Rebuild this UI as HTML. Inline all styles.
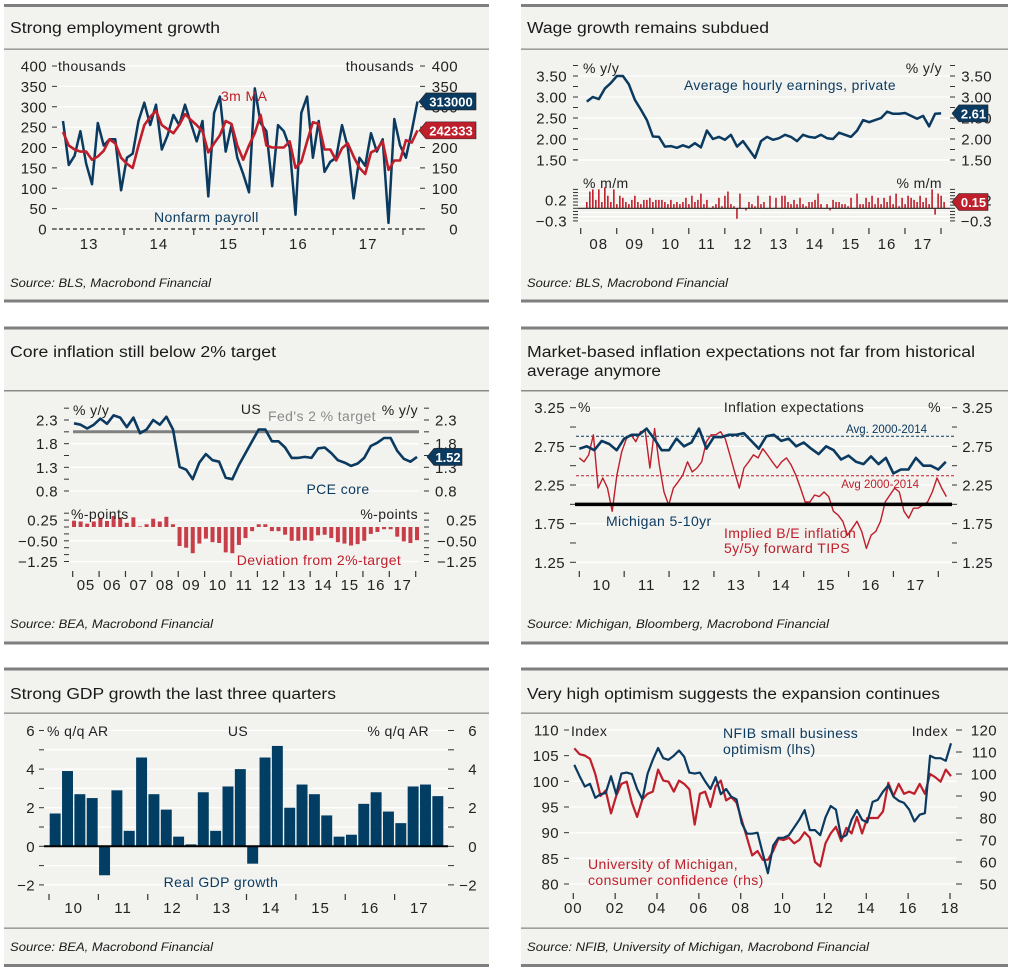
<!DOCTYPE html>
<html><head><meta charset="utf-8">
<style>
html,body{margin:0;padding:0;background:#fff;}
svg{display:block;font-family:"Liberation Sans",sans-serif;}
text{font-family:"Liberation Sans",sans-serif;}
</style></head>
<body>
<svg id="chart" width="1013" height="975" viewBox="0 0 1013 975" xmlns="http://www.w3.org/2000/svg">
<g fill="#f2f2ee">
<rect x="4" y="5" width="485" height="296"/>
<rect x="521" y="5" width="487" height="296"/>
<rect x="4" y="327" width="485" height="316"/>
<rect x="521" y="327" width="487" height="316"/>
<rect x="4" y="668" width="485" height="298"/>
<rect x="521" y="668" width="487" height="298"/>
</g>
<g fill="#7f7f7f">
<rect x="4" y="4" width="485" height="3"/>
<rect x="521" y="4" width="487" height="3"/>
<rect x="4" y="48.5" width="485" height="1.3" fill="#8a8a8a"/>
<rect x="521" y="48.5" width="487" height="1.3" fill="#8a8a8a"/>
<rect x="4" y="299.5" width="485" height="3"/>
<rect x="521" y="299.5" width="487" height="3"/>
<rect x="4" y="326.5" width="485" height="3"/>
<rect x="521" y="326.5" width="487" height="3"/>
<rect x="4" y="390" width="485" height="1.5" fill="#8a8a8a"/>
<rect x="521" y="390" width="487" height="1.5" fill="#8a8a8a"/>
<rect x="4" y="641.5" width="485" height="3"/>
<rect x="521" y="641.5" width="487" height="3"/>
<rect x="4" y="667.5" width="485" height="3"/>
<rect x="521" y="667.5" width="487" height="3"/>
<rect x="4" y="712.5" width="485" height="1.3" fill="#8a8a8a"/>
<rect x="521" y="712.5" width="487" height="1.3" fill="#8a8a8a"/>
<rect x="4" y="927.5" width="485" height="1.3" fill="#8a8a8a"/>
<rect x="521" y="927.5" width="487" height="1.3" fill="#8a8a8a"/>
<rect x="4" y="964" width="485" height="3"/>
<rect x="521" y="964" width="487" height="3"/>
</g>
<g fill="#1a1a1a" font-size="15.5">
<text x="10" y="33" textLength="210" lengthAdjust="spacingAndGlyphs">Strong employment growth</text>
<text x="527" y="33" textLength="242" lengthAdjust="spacingAndGlyphs">Wage growth remains subdued</text>
<text x="10" y="357" textLength="266" lengthAdjust="spacingAndGlyphs">Core inflation still below 2% target</text>
<text x="527" y="357" textLength="448" lengthAdjust="spacingAndGlyphs">Market-based inflation expectations not far from historical</text>
<text x="527" y="376" textLength="134" lengthAdjust="spacingAndGlyphs">average anymore</text>
<text x="10" y="699" textLength="326" lengthAdjust="spacingAndGlyphs">Strong GDP growth the last three quarters</text>
<text x="527" y="699" textLength="413" lengthAdjust="spacingAndGlyphs">Very high optimism suggests the expansion continues</text>
</g>
<g fill="#1a1a1a" font-size="11.5" font-style="italic">
<text x="10" y="287" textLength="201" lengthAdjust="spacingAndGlyphs">Source: BLS, Macrobond Financial</text>
<text x="527" y="287" textLength="201" lengthAdjust="spacingAndGlyphs">Source: BLS, Macrobond Financial</text>
<text x="10" y="628" textLength="203" lengthAdjust="spacingAndGlyphs">Source: BEA, Macrobond Financial</text>
<text x="527" y="628" textLength="302" lengthAdjust="spacingAndGlyphs">Source: Michigan, Bloomberg, Macrobond Financial</text>
<text x="10" y="951" textLength="203" lengthAdjust="spacingAndGlyphs">Source: BEA, Macrobond Financial</text>
<text x="527" y="951" textLength="342" lengthAdjust="spacingAndGlyphs">Source: NFIB, University of Michigan, Macrobond Financial</text>
</g>
</svg>
<script>
// ---------- DATA ----------
const nfpValues=[265,157,180,240,160,110,260,205,220,220,95,175,185,265,310,255,305,195,230,280,255,305,260,215,265,80,285,325,190,255,175,135,90,345,260,240,105,255,240,200,35,285,325,175,265,140,165,175,255,200,75,175,155,235,190,220,15,270,205,175,240,313];
const nfpMaValues=[238,205,195,190,190,170,178,192,220,210,175,160,150,205,255,275,290,255,245,235,255,282,268,255,240,188,210,230,265,258,205,170,205,235,280,205,200,200,200,215,150,165,215,262,258,195,195,168,198,210,178,150,135,188,195,215,145,168,168,218,212,242];
const nfpStartYear=2013;
const p1TickLabels=['400','350','300','250','200','150','100','50','0'];
const p1TickValues=[400,350,300,250,200,150,100,50,0];
const p1YearLabels=['13','14','15','16','17'];
const p1LastNfp='313000', p1LastMa='242333';

const aheYoY=[2.89,3.0,2.95,3.2,3.33,3.5,3.5,3.3,2.93,2.7,2.45,2.06,2.05,1.82,1.83,1.79,1.85,1.8,1.9,1.8,2.2,2.0,2.05,1.98,2.1,1.82,1.95,1.75,1.55,1.95,2.05,1.98,2.02,2.1,2.05,1.95,2.1,2.05,2.03,2.1,2.02,2.0,2.15,2.1,2.05,2.2,2.45,2.4,2.45,2.5,2.65,2.6,2.6,2.62,2.55,2.48,2.55,2.3,2.6,2.61];
const aheStartYear=2008.17, aheStepYears=2/12;
const aheMoM=[.15,.4,.45,.2,.45,.15,.5,.3,.15,.45,.1,.3,
.25,.15,.1,.2,.3,.15,.1,.2,.2,.25,.15,.2,
.2,.2,.15,.1,.2,.1,.15,.1,.15,.25,.1,.3,
.15,.2,.35,.1,.2,0,.05,.1,.25,.05,.3,.4,
.1,.05,-.25,.35,0,-.05,.15,.1,.05,.3,.1,.15,
0,.3,0,.25,0,.3,.3,.15,.1,.2,.1,.25,
.1,.05,.15,.15,.2,.35,.1,0,.1,-.05,.2,.15,
.15,.1,.1,.05,.25,0,.35,.1,.1,.25,.15,.3,
.1,.25,.1,.25,.15,.3,.1,.35,.05,.25,.1,.3,
.25,.2,.15,.3,.15,.25,.1,.45,-.15,.35,.3,.15];
const p2TopLabels=['3.50','3.00','2.50','2.00','1.50'];
const p2TopValues=[3.5,3.0,2.5,2.0,1.5];
const p2BotLabels=['0.2','\u22120.3'];
const p2BotValues=[0.2,-0.3];
const p2YearLabels=['08','09','10','11','12','13','14','15','16','17'];
const p2LastYoY='2.61', p2LastMoM='0.15';

const pceCore=[2.23,2.2,2.12,2.2,2.33,2.22,2.4,2.35,2.15,2.35,2.02,2.1,2.3,2.2,2.37,2.1,1.31,1.25,1.05,1.4,1.58,1.45,1.42,1.08,1.05,1.35,1.6,1.85,2.1,2.1,1.85,1.85,1.72,1.5,1.5,1.52,1.5,1.7,1.72,1.6,1.45,1.4,1.33,1.38,1.5,1.75,1.82,1.92,1.92,1.65,1.48,1.42,1.52];
const pceStartYear=2005.05;
const fedTarget=2.0;
const p3TopLabels=['2.3','1.8','1.3','0.8'];
const p3TopValues=[2.3,1.8,1.3,0.8];
const p3BotLabels=['0.25','\u22120.50','\u22121.25'];
const p3BotValues=[0.25,-0.5,-1.25];
const p3YearLabels=['05','06','07','08','09','10','11','12','13','14','15','16','17'];
const p3LastValue='1.52';

const michigan510=[2.72,2.75,2.7,2.82,2.78,2.7,2.85,2.9,2.9,2.98,2.85,2.7,2.7,2.85,2.75,2.8,2.98,2.72,2.87,2.87,2.9,2.9,2.92,2.82,2.72,2.88,2.9,2.82,2.85,2.75,2.8,2.72,2.65,2.75,2.7,2.58,2.63,2.55,2.52,2.62,2.52,2.6,2.4,2.45,2.45,2.6,2.5,2.5,2.45,2.55];
const michStartYear=2010, michStepYears=2/12;
const tips5y5y=[2.6,2.55,2.64,2.9,2.21,2.34,2.21,1.91,2.38,2.68,2.85,2.9,2.81,2.94,2.95,2.47,2.98,2.51,2.16,1.99,2.21,2.29,2.38,2.55,2.42,2.47,2.55,2.81,2.9,2.9,2.94,2.85,2.64,2.42,2.21,2.47,2.55,2.64,2.6,2.72,2.64,2.55,2.47,2.55,2.6,2.51,2.38,2.21,2.03,2.03,2.12,2.1,2.16,2.1,1.91,1.86,1.78,1.6,1.69,1.78,1.65,1.43,1.6,1.65,1.78,2.03,2.12,2.21,2.16,1.91,1.82,1.95,1.95,1.99,2.03,2.16,2.34,2.21,2.1];
const tipsStartYear=2010, tipsEndYear=2018.18;
const michAvg=2.88, tipsAvg=2.37, refLevel=2.0;
const p4Labels=['3.25','2.75','2.25','1.75','1.25'];
const p4Values=[3.25,2.75,2.25,1.75,1.25];
const p4YearLabels=['10','11','12','13','14','15','16','17'];

const gdpGrowth=[1.7,3.9,2.7,2.5,-1.5,2.9,0.8,4.6,2.7,1.9,0.5,0.1,2.8,0.8,3.1,4.0,-0.9,4.6,5.2,2.0,3.2,2.7,1.6,0.5,0.6,2.2,2.8,1.8,1.2,3.1,3.2,2.6];
const gdpStartYear=2010;
const p5Labels=['6','4','2','0','\u22122'];
const p5Values=[6,4,2,0,-2];
const p5YearLabels=['10','11','12','13','14','15','16','17'];

const nfibIndex=[103.2,101,99,99.5,96.8,97.5,97.7,101,97.5,101.5,101.7,101.4,98.5,96.5,101.5,104.2,106.5,104.5,104.2,105,106,104.8,101.7,101.5,101.7,100,98.5,100.8,97.5,98.5,97,96.5,91.8,89.8,89.8,90,86,82.1,87.5,89,89,89.5,91,92.5,94.4,90.5,90.5,89.5,93,95.2,94.5,89,89.5,92.5,94.4,92.5,92,96,96.4,98,99.2,97,96.2,95.8,94.5,92.2,93.5,93.8,105,104.5,104.5,104,107.4];
const umichConf=[111.7,109,108.4,106.9,100,90,92.5,82.1,90,95.5,96.5,87,80.5,88.5,91,92,102,97,96.5,92,97,95.5,93,77,91,92,85,94.5,97,88,89.5,87,79,71,63,65,61,61,65,70.5,70,71,68.5,70,73.5,71,60,58,68.5,73,76,69.5,75.5,73,80.5,73,80,80,80,83,96,90,95.5,91,92,91,95.5,91,100,98.5,96.5,102,99];
const optStartYear=2000.05;
const p6LeftLabels=['110','105','100','95','90','85','80'];
const p6LeftValues=[110,105,100,95,90,85,80];
const p6RightLabels=['120','110','100','90','80','70','60','50'];
const p6RightValues=[120,110,100,90,80,70,60,50];
const p6YearLabels=['00','02','04','06','08','10','12','14','16','18'];

// ---------- HELPERS ----------
const NS='http://www.w3.org/2000/svg';
const svg=document.getElementById('chart');
const BLUE='#0b3a60', RED='#bf1e2b', INK='#222';
function mk(tag,attrs,name,parent){
  const el=document.createElementNS(NS,tag);
  for(const k in attrs) el.setAttribute(k,attrs[k]);
  
  
  (parent||svg).appendChild(el);
  return el;
}
function txt(x,y,s,name,o){
  const t=mk('text',Object.assign({x:x,y:y,'font-size':15,fill:INK,'letter-spacing':0.4},o||{}),name);
  t.textContent=s;return t;
}
function line(x1,y1,x2,y2,name,o){return mk('line',Object.assign({x1:x1,y1:y1,x2:x2,y2:y2,stroke:'#fff','stroke-width':1.3},o||{}),name);}
function pathD(pts){return pts.map((p,i)=>(i?'L':'M')+p[0].toFixed(1)+' '+p[1].toFixed(1)).join(' ');}
function lin(d0,r0,d1,r1){return v=>r0+(v-d0)*(r1-r0)/(d1-d0);}
function tag(x,yc,s,color,w,name){
  const g=mk('g',{},name);
  mk('polygon',{points:`${x},${yc} ${x+7},${yc-8.5} ${x+w},${yc-8.5} ${x+w},${yc+8.5} ${x+7},${yc+8.5}`,fill:color,stroke:'#222','stroke-width':0.6},name+'-shape',g);
  const t=mk('text',{x:x+7+(w-7)/2,y:yc+5,'text-anchor':'middle','font-size':13,fill:'#fff','font-weight':'bold'},name+'-text',g);
  t.textContent=s;
}
function grid(vals,ys,x0,x1,prefix){vals.forEach((v,i)=>line(x0,ys(v),x1,ys(v),prefix+'-gridline-'+i));}
function yLabels(labels,vals,ys,xEnd,prefix,o){labels.forEach((s,i)=>txt(xEnd,ys(vals[i])+5.5,s,prefix+'-label-'+i,Object.assign({'text-anchor':'end'},o||{})));}
function ticks(vals,ys,x0,x1,prefix){vals.forEach((v,i)=>line(x0,ys(v),x1,ys(v),prefix+'-tick-'+i,{stroke:'#333','stroke-width':1}));}
function range(a,b,s){const r=[];for(let v=a;v<=b+1e-9;v+=s)r.push(+v.toFixed(4));return r;}

// ---------- PANEL 1 ----------
(function(){
  const ys=lin(0,229,400,66), xs=lin(2013,54.25,2018,403);
  grid(p1TickValues.slice(0,-1),ys,57,420,'p1');
  line(52,ys(0),424,ys(0),'p1-zero-line',{stroke:'#222','stroke-width':1.2,'stroke-dasharray':'4 3'});
  ticks(p1TickValues,ys,52,57,'p1-left');ticks(p1TickValues,ys,420,425,'p1-right');
  yLabels(p1TickLabels,p1TickValues,ys,47,'p1-left');
  yLabels(p1TickLabels,p1TickValues,ys,458,'p1-right');
  const yrs=[2013,2014,2015,2016,2017,2018];
  yrs.slice(1).forEach((y,i)=>line(xs(y),229,xs(y),235,'p1-xtick-'+i,{stroke:'#333','stroke-width':1.2}));
  p1YearLabels.forEach((s,i)=>txt((xs(yrs[i])+xs(yrs[i+1]))/2,249,s,'p1-xlabel-'+i,{'text-anchor':'middle','letter-spacing':1}));
  txt(58,71,'thousands','p1-left-unit',{'font-size':14});
  txt(414,71,'thousands','p1-right-unit',{'font-size':14,'text-anchor':'end'});
  const xi=i=>xs(nfpStartYear+(i+1.5)/12);
  mk('path',{d:pathD(nfpValues.map((v,i)=>[xi(i),ys(v)])),fill:'none',stroke:BLUE,'stroke-width':2.5,'stroke-linejoin':'round'},'nonfarm-payroll-line');
  mk('path',{d:pathD(nfpMaValues.map((v,i)=>[xi(i),ys(v)])),fill:'none',stroke:RED,'stroke-width':2.6,'stroke-linejoin':'round'},'nfp-3m-ma-line');
  txt(221,101,'3m MA','label-3m-ma',{fill:RED,'font-size':14});
  txt(154,222,'Nonfarm payroll','label-nonfarm-payroll',{fill:BLUE,'font-size':14});
  tag(419,ys(nfpValues[nfpValues.length-1]),p1LastNfp,BLUE,57,'tag-last-nfp');
  tag(419,ys(nfpMaValues[nfpMaValues.length-1]),p1LastMa,RED,57,'tag-last-ma');
})();

// ---------- PANEL 2 ----------
(function(){
  const ys=lin(1.5,160,3.5,76), yb=lin(0,208.3,0.5,187.3), xs=lin(2008,580.7,2018,941);
  grid(p2TopValues,ys,578,950,'p2-top');
  grid([0.4,0.3,0.1,-0.1,-0.2,-0.3],yb,578,950,'p2-bot');
  const minor=range(1.5,3.75,0.25);
  ticks(minor,ys,573,578,'p2-top-left');ticks(minor,ys,950,955,'p2-top-right');
  const bm=range(-0.3,0.45,0.075);
  ticks(bm,yb,573,578,'p2-bot-left');ticks(bm,yb,950,955,'p2-bot-right');
  yLabels(p2TopLabels,p2TopValues,ys,567,'p2-top-left');
  yLabels(p2TopLabels,p2TopValues,ys,992,'p2-top-right');
  yLabels(p2BotLabels,p2BotValues,yb,567,'p2-bot-left');
  yLabels(p2BotLabels,p2BotValues,yb,992,'p2-bot-right');
  const yrs=range(2008,2018,1);
  yrs.forEach((y,i)=>line(xs(y),228,xs(y),234,'p2-xtick-'+i,{stroke:'#333','stroke-width':1.2}));
  p2YearLabels.forEach((s,i)=>txt((xs(yrs[i])+xs(yrs[i+1]))/2,249,s,'p2-xlabel-'+i,{'text-anchor':'middle','letter-spacing':1}));
  txt(583,73,'% y/y','p2-left-unit',{'font-size':14});
  txt(942,73,'% y/y','p2-right-unit',{'font-size':14,'text-anchor':'end'});
  txt(583,188,'% m/m','p2-left-unit-mm',{'font-size':14});
  txt(942,188,'% m/m','p2-right-unit-mm',{'font-size':14,'text-anchor':'end'});
  aheMoM.forEach((v,i)=>{const x=xs(aheStartYear+i/12);const y0=yb(0),y1=yb(v);
    mk('rect',{x:x-0.8,y:Math.min(y0,y1),width:1.6,height:Math.max(0.5,Math.abs(y1-y0)),fill:RED},'mom-bar-'+i);});
  line(578,yb(0),950,yb(0),'p2-mom-zero',{stroke:'#222','stroke-width':1.2});
  mk('path',{d:pathD(aheYoY.map((v,i)=>[xs(aheStartYear+i*aheStepYears),ys(v)])),fill:'none',stroke:BLUE,'stroke-width':2.5,'stroke-linejoin':'round'},'ahe-yoy-line');
  txt(684,90,'Average hourly earnings, private','label-ahe',{fill:BLUE,'font-size':14,textLength:212,lengthAdjust:'spacingAndGlyphs'});
  tag(952,ys(aheYoY[aheYoY.length-1]),p2LastYoY,BLUE,36,'tag-last-yoy');
  tag(952,yb(aheMoM[aheMoM.length-1]),p2LastMoM,RED,36,'tag-last-mom');
})();

// ---------- PANEL 3 ----------
(function(){
  const ys=lin(2.3,420,0.8,491), yb=lin(0,527,0.25,520.1), xs=lin(2005,72.7,2018,415.7);
  grid(p3TopValues,ys,68,419,'p3-top');
  grid([0.25,-0.5,-1.25],yb,68,419,'p3-bot');
  const tm=range(0.8,2.55,0.25);
  ticks(tm,ys,64,69,'p3-top-left');ticks(tm,ys,424,429,'p3-top-right');
  const bm=range(-1.25,0.5,0.25);
  ticks(bm,yb,64,69,'p3-bot-left');ticks(bm,yb,424,429,'p3-bot-right');
  yLabels(p3TopLabels,p3TopValues,ys,58,'p3-top-left');
  yLabels(p3TopLabels,p3TopValues,ys,457,'p3-top-right');
  yLabels(p3BotLabels,p3BotValues,yb,58,'p3-bot-left');
  yLabels(p3BotLabels,p3BotValues,yb,477,'p3-bot-right');
  const yrs=range(2005,2018,1);
  yrs.forEach((y,i)=>line(xs(y),571,xs(y),577,'p3-xtick-'+i,{stroke:'#333','stroke-width':1.2}));
  p3YearLabels.forEach((s,i)=>txt((xs(yrs[i])+xs(yrs[i+1]))/2,590,s,'p3-xlabel-'+i,{'text-anchor':'middle','letter-spacing':0.8}));
  line(73,ys(fedTarget)-2.5,419,ys(fedTarget)-2.5,'fed-target-line',{stroke:'#808080','stroke-width':3});
  pceCore.forEach((v,i)=>{const x=xs(pceStartYear+i/4);const d=v-fedTarget;const y0=yb(0),y1=yb(d);
    mk('rect',{x:x-2,y:Math.min(y0,y1),width:4,height:Math.max(0.6,Math.abs(y1-y0)),fill:RED,opacity:0.85},'deviation-bar-'+i);});
  mk('path',{d:pathD(pceCore.map((v,i)=>[xs(pceStartYear+i/4),ys(v)])),fill:'none',stroke:BLUE,'stroke-width':2.6,'stroke-linejoin':'round'},'pce-core-line');
  txt(73,415,'% y/y','p3-left-unit',{'font-size':14});
  txt(418,415,'% y/y','p3-right-unit',{'font-size':14,'text-anchor':'end'});
  txt(251,414,'US','p3-us-label',{'font-size':14,'text-anchor':'middle'});
  txt(322,421,"Fed's 2 % target",'label-fed-target',{'font-size':14,'text-anchor':'middle',fill:'#8a8a8a'});
  txt(338,494,'PCE core','label-pce-core',{'font-size':14,'text-anchor':'middle',fill:BLUE});
  txt(71,519,'%-points','p3-left-unit-pp',{'font-size':14});
  txt(418,519,'%-points','p3-right-unit-pp',{'font-size':14,'text-anchor':'end'});
  txt(319,565,'Deviation from 2%-target','label-deviation',{'font-size':14,'text-anchor':'middle',fill:RED});
  tag(427,ys(pceCore[pceCore.length-1]),p3LastValue,BLUE,35,'tag-last-pce');
})();

// ---------- PANEL 4 ----------
(function(){
  const ys=lin(3.25,407.7,1.25,562.3), xs=lin(2010,579.3,2018,938.3);
  grid(p4Values,ys,576,952,'p4');
  const tm=range(1.25,3.25,0.25);
  ticks(tm,ys,570,576,'p4-left');ticks(tm,ys,952,957,'p4-right');
  yLabels(p4Labels,p4Values,ys,565,'p4-left');
  yLabels(p4Labels,p4Values,ys,993,'p4-right');
  const yrs=range(2010,2018,1);
  yrs.forEach((y,i)=>line(xs(y),571,xs(y),577,'p4-xtick-'+i,{stroke:'#333','stroke-width':1.2}));
  p4YearLabels.forEach((s,i)=>txt((xs(yrs[i])+xs(yrs[i+1]))/2,590,s,'p4-xlabel-'+i,{'text-anchor':'middle','letter-spacing':1}));
  line(576,ys(michAvg),955,ys(michAvg),'michigan-avg-line',{stroke:BLUE,'stroke-width':1,'stroke-dasharray':'3 2'});
  line(576,ys(tipsAvg),955,ys(tipsAvg),'tips-avg-line',{stroke:RED,'stroke-width':1,'stroke-dasharray':'3 2'});
  const n=tips5y5y.length;
  mk('path',{d:pathD(tips5y5y.map((v,i)=>[xs(tipsStartYear+i*(tipsEndYear-tipsStartYear)/(n-1)),ys(v)])),fill:'none',stroke:RED,'stroke-width':1.4,'stroke-linejoin':'round'},'tips-5y5y-line');
  mk('path',{d:pathD(michigan510.map((v,i)=>[xs(michStartYear+i*michStepYears),ys(v)])),fill:'none',stroke:BLUE,'stroke-width':2.6,'stroke-linejoin':'round'},'michigan-5-10yr-line');
  line(575,ys(refLevel),952,ys(refLevel),'two-percent-line',{stroke:'#000','stroke-width':3.5});
  txt(578,412,'%','p4-left-unit',{'font-size':14});
  txt(941,412,'%','p4-right-unit',{'font-size':14,'text-anchor':'end'});
  txt(794,412,'Inflation expectations','p4-chart-title',{'font-size':14,'text-anchor':'middle'});
  txt(927,433,'Avg. 2000-2014','label-michigan-avg',{'font-size':11.5,'text-anchor':'end',fill:BLUE,'letter-spacing':0});
  txt(919,488,'Avg 2000-2014','label-tips-avg',{'font-size':11.5,'text-anchor':'end',fill:RED,'letter-spacing':0});
  txt(606,526,'Michigan 5-10yr','label-michigan',{'font-size':14,fill:BLUE});
  txt(724,538,'Implied B/E inflation','label-tips-1',{'font-size':14,fill:RED});
  txt(724,553,'5y/5y forward TIPS','label-tips-2',{'font-size':14,fill:RED});
})();

// ---------- PANEL 5 ----------
(function(){
  const ys=lin(0,846.3,6,730.5), xs=lin(2010,49,2018,444);
  grid([6,4,2,-2],ys,44,448,'p5');
  grid([5,3,1,-1],ys,44,448,'p5-minor');
  const tm=range(-2,6,1);
  ticks(tm,ys,39,44,'p5-left');ticks(tm,ys,448,454,'p5-right');
  yLabels(p5Labels,p5Values,ys,35,'p5-left');
  yLabels(p5Labels,p5Values,ys,477,'p5-right');
  const yrs=range(2010,2018,1);
  yrs.slice(0,8).forEach((y,i)=>line(xs(y),894,xs(y),900,'p5-xtick-'+i,{stroke:'#333','stroke-width':1.2}));
  p5YearLabels.forEach((s,i)=>txt((xs(yrs[i])+xs(yrs[i+1]))/2,913,s,'p5-xlabel-'+i,{'text-anchor':'middle','letter-spacing':1}));
  gdpGrowth.forEach((v,i)=>{const x0=xs(gdpStartYear+i/4)+0.7,x1=xs(gdpStartYear+(i+1)/4)-0.7;const y0=ys(0),y1=ys(v);
    mk('rect',{x:x0,y:Math.min(y0,y1),width:x1-x0,height:Math.abs(y1-y0),fill:'#023e63'},'gdp-bar-'+i);});
  line(44,ys(0),448,ys(0),'p5-zero-line',{stroke:'#000','stroke-width':2});
  txt(47,736,'% q/q AR','p5-left-unit',{'font-size':14});
  txt(429,736,'% q/q AR','p5-right-unit',{'font-size':14,'text-anchor':'end'});
  txt(238,736,'US','p5-us-label',{'font-size':14,'text-anchor':'middle'});
  txt(221,887,'Real GDP growth','label-real-gdp',{'font-size':14,'text-anchor':'middle',fill:BLUE});
})();

// ---------- PANEL 6 ----------
(function(){
  const yl=lin(110,730,80,884), yr=lin(120,730,50,884), xs=lin(2000,573.3,2018,950);
  grid(p6LeftValues,yl,569,957,'p6');
  ticks(p6LeftValues,yl,564,569,'p6-left');ticks(p6RightValues,yr,956,962,'p6-right');
  yLabels(p6LeftLabels,p6LeftValues,yl,559,'p6-left');
  yLabels(p6RightLabels,p6RightValues,yr,997,'p6-right');
  const yrs=range(2000,2018,2);
  yrs.forEach((y,i)=>line(xs(y),893,xs(y),899,'p6-xtick-'+i,{stroke:'#333','stroke-width':1.2}));
  p6YearLabels.forEach((s,i)=>txt(xs(yrs[i]),913,s,'p6-xlabel-'+i,{'text-anchor':'middle','letter-spacing':1}));
  mk('path',{d:pathD(umichConf.map((v,i)=>[xs(optStartYear+i/4),yr(v)])),fill:'none',stroke:RED,'stroke-width':2.2,'stroke-linejoin':'round'},'umich-confidence-line');
  mk('path',{d:pathD(nfibIndex.map((v,i)=>[xs(optStartYear+i/4),yl(v)])),fill:'none',stroke:BLUE,'stroke-width':2.2,'stroke-linejoin':'round'},'nfib-optimism-line');
  txt(571,736,'Index','p6-left-unit',{'font-size':14});
  txt(948,736,'Index','p6-right-unit',{'font-size':14,'text-anchor':'end'});
  txt(723,738,'NFIB small business','label-nfib-1',{'font-size':14,fill:BLUE});
  txt(723,754,'optimism (lhs)','label-nfib-2',{'font-size':14,fill:BLUE});
  txt(588,869,'University of Michigan,','label-umich-1',{'font-size':14,fill:RED});
  txt(588,885,'consumer confidence (rhs)','label-umich-2',{'font-size':14,fill:RED});
})();
</script>
</body></html>
